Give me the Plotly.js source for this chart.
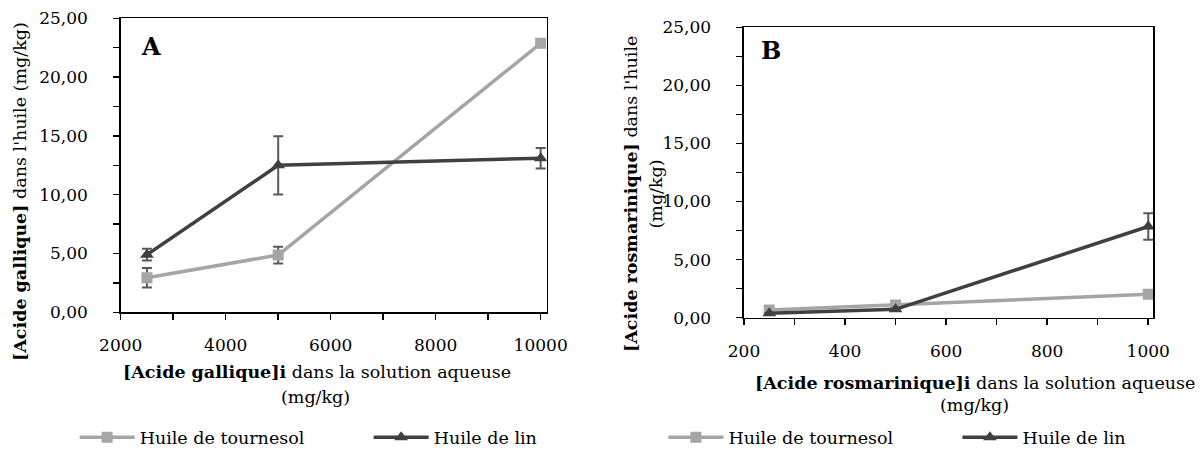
<!DOCTYPE html>
<html>
<head>
<meta charset="utf-8">
<script src="https://cdn.plot.ly/plotly-3.0.1.min.js"></script>
<style>
  html, body { margin: 0; padding: 0; background: #fff; }
  #chart { width: 1204px; height: 450px; }
</style>
</head>
<body>
<div id="chart"></div>
<script>
// ---- Data ----
const seriesNames = ["Huile de tournesol", "Huile de lin"];

// Panel A : acide gallique
const xA = [2500, 5000, 10000];
const tournesolA = [2.94, 4.87, 22.87];
const tournesolAErr = [0.83, 0.71, null];
const linA = [4.90, 12.50, 13.10];
const linAErr = [0.50, 2.48, 0.88];

// Panel B : acide rosmarinique
const xB = [250, 500, 1000];
const tournesolB = [0.66, 1.09, 2.01];
const tournesolBErr = [null, null, null];
const linB = [0.38, 0.72, 7.85];
const linBErr = [null, null, 1.15];

const xTicksA = [2000, 4000, 6000, 8000, 10000];
const xTicksB = [200, 400, 600, 800, 1000];
const yTicks = [0, 5, 10, 15, 20, 25];

// ---- Styles ----
const FONT = "DejaVu Serif";
const FS = 17.5;
const TFS = 17;
const GRAY = "#A5A5A5";
const DARK = "#404040";
const ERR = "#595959";

function errObj(arr) {
  return { type: "data", array: arr, visible: true, color: ERR, thickness: 2, width: 5 };
}

const traces = [
  { x: xA, y: tournesolA, name: seriesNames[0], xaxis: "x", yaxis: "y", legend: "legend",
    mode: "lines+markers", line: { color: GRAY, width: 3.5 },
    marker: { symbol: "square", size: 11, color: GRAY }, error_y: errObj(tournesolAErr) },
  { x: xA, y: linA, name: seriesNames[1], xaxis: "x", yaxis: "y", legend: "legend",
    mode: "lines+markers", line: { color: DARK, width: 3.5 },
    marker: { symbol: "triangle-up", size: 12, color: DARK }, error_y: errObj(linAErr) },
  { x: xB, y: tournesolB, name: seriesNames[0], xaxis: "x2", yaxis: "y2", legend: "legend2",
    mode: "lines+markers", line: { color: GRAY, width: 3.5 },
    marker: { symbol: "square", size: 11, color: GRAY }, error_y: errObj(tournesolBErr) },
  { x: xB, y: linB, name: seriesNames[1], xaxis: "x2", yaxis: "y2", legend: "legend2",
    mode: "lines+markers", line: { color: DARK, width: 3.5 },
    marker: { symbol: "triangle-up", size: 12, color: DARK }, error_y: errObj(linBErr) }
];

function xAxis(domain, range, ticks, minorDtick, anchor) {
  return {
    domain: domain, range: range, anchor: anchor, automargin: false,
    tickmode: "array", tickvals: ticks, tickformat: "d", exponentformat: "none",
    showline: true, linecolor: "#000", linewidth: 1.5, mirror: true,
    ticks: "outside", ticklen: 6, tickwidth: 1.5, tickcolor: "#000",
    ticklabelstandoff: 11,
    minor: { ticks: "outside", ticklen: 6, tickwidth: 1.5, tickcolor: "#000", dtick: minorDtick, tick0: 0 },
    showgrid: false, zeroline: false,
    tickfont: { family: FONT, size: TFS, color: "#000" }
  };
}
function yAxis(domain, anchor) {
  return {
    domain: domain, range: [0, 25], anchor: anchor, automargin: false,
    tickmode: "array", tickvals: yTicks, tickformat: ".2f",
    showline: true, linecolor: "#000", linewidth: 1.5, mirror: true,
    ticks: "outside", ticklen: 6, tickwidth: 1.5, tickcolor: "#000",
    ticklabelstandoff: 22,
    minor: { ticks: "outside", ticklen: 6, tickwidth: 1.5, tickcolor: "#000", dtick: 2.5, tick0: 0 },
    showgrid: false, zeroline: false,
    tickfont: { family: FONT, size: TFS, color: "#000" }
  };
}

function ann(text, xpx, ypx, size, angle) {
  return { text: text, x: xpx / 1204, y: 1 - ypx / 450, xref: "paper", yref: "paper", showarrow: false,
    xanchor: "center", yanchor: "middle", textangle: angle || 0,
    font: { family: FONT, size: size, color: "#000" } };
}

const legendBase = {
  orientation: "h", yanchor: "middle", xanchor: "left",
  font: { family: FONT, size: FS, color: "#000" },
  bgcolor: "rgba(0,0,0,0)", itemwidth: 55, entrywidthmode: "pixels", entrywidth: 224,
  traceorder: "normal"
};

const layout = {
  width: 1204, height: 450,
  margin: { l: 0, r: 0, t: 0, b: 0, pad: 0, autoexpand: false },
  paper_bgcolor: "#fff", plot_bgcolor: "#fff",
  separators: ", ",
  showlegend: true,
  xaxis: xAxis([0.10025, 0.45407], [2000, 10115], xTicksA, 1000, "y"),
  yaxis: yAxis([0.306, 0.95933], "x"),
  xaxis2: xAxis([0.61794, 0.95789], [200, 1010], xTicksB, 100, "y2"),
  yaxis2: yAxis([0.294, 0.93933], "x2"),
  legend: Object.assign({}, legendBase, { x: 0.062, y: 0.028 }),
  legend2: Object.assign({}, legendBase, { x: 0.551, y: 0.028 }),
  annotations: [
    ann("<b>A</b>", 150.8, 46.7, 24),
    ann("<b>B</b>", 770.8, 50.5, 24),
    ann("<b>[Acide gallique]</b> dans l'huile (mg/kg)", 19.5, 191.5, FS, -90),
    ann("<b>[Acide rosmarinique]</b> dans l'huile", 631, 194, FS, -90),
    ann("(mg/kg)", 655.5, 194, FS, -90),
    ann("<b>[Acide gallique]i</b> dans la solution aqueuse", 317, 372, FS),
    ann("(mg/kg)", 315, 396.5, FS),
    ann("<b>[Acide rosmarinique]i</b> dans la solution aqueuse", 975, 383.3, FS),
    ann("(mg/kg)", 974, 404.5, FS)
  ]
};

Plotly.newPlot("chart", traces, layout, { displayModeBar: false, staticPlot: true });
</script>
</body>
</html>
